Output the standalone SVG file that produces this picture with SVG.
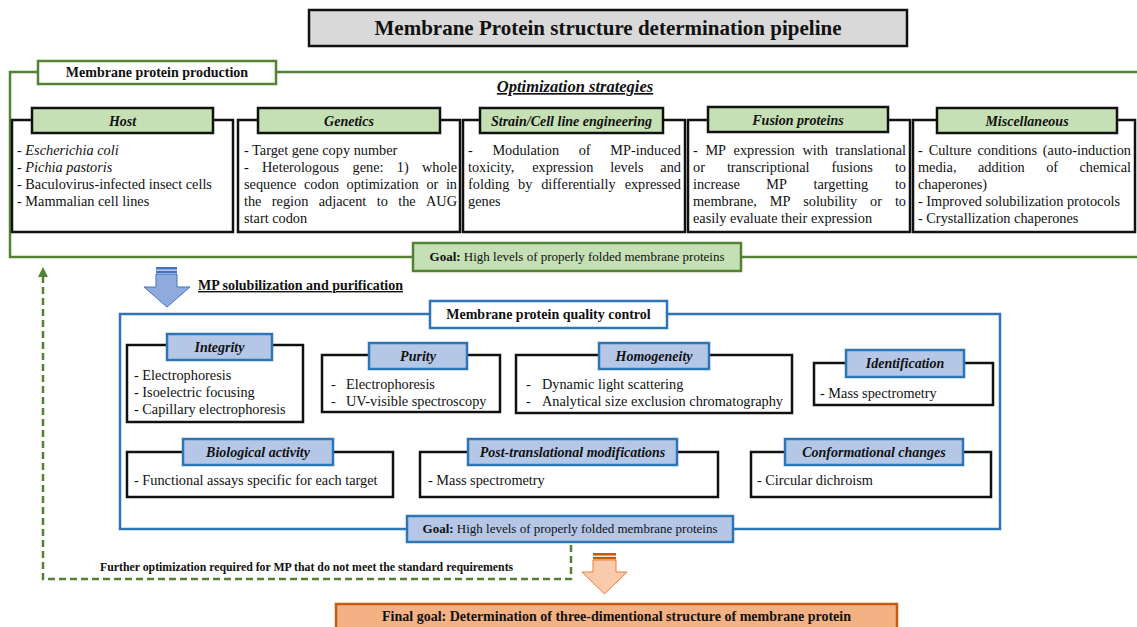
<svg xmlns="http://www.w3.org/2000/svg" width="1137" height="627" viewBox="0 0 1137 627">
<defs>
<style>
text{font-family:"Liberation Serif","Times New Roman",serif;fill:#111}
.b{font-size:14.3px}
.h{font-size:14px;font-weight:bold;font-style:italic}
.bold{font-weight:bold}
.box{fill:#fff;stroke:#111;stroke-width:2.5}
.gtab{fill:#c5e0b4;stroke:#111;stroke-width:2.5}
.btab{fill:#b4c7e7;stroke:#2e75b6;stroke-width:2.5}
.gl{fill:none;stroke:#548235;stroke-width:2.5}
.bl{fill:none;stroke:#2e75b6;stroke-width:2.5}
.i{font-style:italic}
.m{text-anchor:middle}
.e{text-anchor:end}
</style>
<marker id="ga" viewBox="0 0 10 10" refX="5" refY="5" markerWidth="4" markerHeight="4" orient="auto-start-reverse" markerUnits="strokeWidth">
<path d="M0,0 L10,5 L0,10 Z" fill="#548235"/>
</marker>
</defs>
<rect width="1137" height="627" fill="#fff"/>

<g id="title">
<rect x="309" y="10" width="598" height="36" fill="#d9d9d9" stroke="#111" stroke-width="2.5"/>
<text x="608" y="35" class="m bold" style="font-size:21px">Membrane Protein structure determination pipeline</text>
</g>

<g id="connectors">
<path class="gl" d="M38,72 H10 V257 H413 M741,257 H1137 M276,72 H1137"/>
<path class="bl" d="M430,314 H120 V529 H407 M733,529 H1000 V314 H667"/>
<path d="M571,545 V579 H43 V272" fill="none" stroke="#548235" stroke-width="2.5" stroke-dasharray="7,4" marker-end="url(#ga)"/>
</g>

<g id="production-label">
<rect x="38" y="61" width="238" height="23" fill="#fff" stroke="#548235" stroke-width="2.5"/>
<text x="157" y="77" class="m bold" style="font-size:14px">Membrane protein production</text>
</g>
<text x="575" y="92" class="m bold i" style="font-size:16.5px;text-decoration:underline">Optimization strategies</text>

<g id="host">
<rect class="box" x="12" y="120" width="221" height="112"/>
<rect class="gtab" x="32" y="108" width="181" height="25"/>
<text x="122.5" y="126" class="h m">Host</text>
<text class="b" x="17" y="155">- <tspan class="i">Escherichia coli</tspan></text>
<text class="b" x="17" y="172">- <tspan class="i">Pichia pastoris</tspan></text>
<text class="b" x="17" y="189">- Baculovirus-infected insect cells</text>
<text class="b" x="17" y="206">- Mammalian cell lines</text>
</g>

<g id="genetics">
<rect class="box" x="238" y="120" width="222" height="112"/>
<rect class="gtab" x="258" y="108" width="182" height="25"/>
<text x="349" y="126" class="h m">Genetics</text>
<text class="b" x="244" y="155">- Target gene copy number</text>
<text class="b" y="172"><tspan x="244">-</tspan><tspan x="262">Heterologous</tspan><tspan x="352.5">gene:</tspan><tspan x="396.8">1)</tspan></text>
<text class="b e" x="457" y="172">whole</text>
<text class="b" y="189"><tspan x="244">sequence</tspan><tspan x="304">codon</tspan><tspan x="346.5">optimization</tspan><tspan x="426.4">or</tspan></text>
<text class="b e" x="457" y="189">in</text>
<text class="b" y="206"><tspan x="244">the</tspan><tspan x="271.8">region</tspan><tspan x="318.7">adjacent</tspan><tspan x="376.7">to</tspan><tspan x="398.2">the</tspan></text>
<text class="b e" x="457" y="206">AUG</text>
<text class="b" x="244" y="223">start codon</text>
</g>

<g id="strain">
<rect class="box" x="463" y="120" width="222" height="112"/>
<rect class="gtab" x="480" y="108" width="183" height="25"/>
<text x="571.5" y="126" class="h m">Strain/Cell line engineering</text>
<text class="b" y="155"><tspan x="468">-</tspan><tspan x="492.4">Modulation</tspan><tspan x="578.7">of</tspan></text>
<text class="b e" x="681" y="155">MP-induced</text>
<text class="b" y="172"><tspan x="468">toxicity,</tspan><tspan x="532.2">expression</tspan><tspan x="610.3">levels</tspan></text>
<text class="b e" x="681" y="172">and</text>
<text class="b" y="189"><tspan x="468">folding</tspan><tspan x="518.1">by</tspan><tspan x="541.2">differentially</tspan></text>
<text class="b e" x="681" y="189">expressed</text>
<text class="b" x="468" y="206">genes</text>
</g>

<g id="fusion">
<rect class="box" x="688" y="120" width="222" height="112"/>
<rect class="gtab" x="708" y="107" width="180" height="25"/>
<text x="798" y="125" class="h m">Fusion proteins</text>
<text class="b" y="155"><tspan x="693">-</tspan><tspan x="705.4">MP</tspan><tspan x="733.6">expression</tspan><tspan x="802.4">with</tspan></text>
<text class="b e" x="906" y="155">translational</text>
<text class="b" y="172"><tspan x="693">or</tspan><tspan x="726.9">transcriptional</tspan><tspan x="831.5">fusions</tspan></text>
<text class="b e" x="906" y="172">to</text>
<text class="b" y="189"><tspan x="693">increase</tspan><tspan x="766.3">MP</tspan><tspan x="813.5">targetting</tspan></text>
<text class="b e" x="906" y="189">to</text>
<text class="b" y="206"><tspan x="693">membrane,</tspan><tspan x="769.7">MP</tspan><tspan x="803.2">solubility</tspan><tspan x="870">or</tspan></text>
<text class="b e" x="906" y="206">to</text>
<text class="b" x="693" y="223">easily evaluate their expression</text>
</g>

<g id="misc">
<rect class="box" x="913" y="120" width="222" height="112"/>
<rect class="gtab" x="937" y="108" width="180" height="25"/>
<text x="1027" y="126" class="h m">Miscellaneous</text>
<text class="b" y="155"><tspan x="918">-</tspan><tspan x="928.7">Culture</tspan><tspan x="977.5">conditions</tspan></text>
<text class="b e" x="1131" y="155">(auto-induction</text>
<text class="b" y="172"><tspan x="918">media,</tspan><tspan x="977.9">addition</tspan><tspan x="1046.2">of</tspan></text>
<text class="b e" x="1131" y="172">chemical</text>
<text class="b" x="918" y="189">chaperones)</text>
<text class="b" x="918" y="206">- Improved solubilization protocols</text>
<text class="b" x="918" y="223">- Crystallization chaperones</text>
</g>

<g id="goal-production">
<rect x="413" y="243" width="328" height="28" fill="#c5e0b4" stroke="#548235" stroke-width="2.5"/>
<text x="577" y="261" class="m" style="font-size:13px"><tspan class="bold">Goal:</tspan> High levels of properly folded membrane proteins</text>
</g>

<g id="arrow-solubilization">
<rect x="156" y="267" width="21" height="2.6" fill="#4472c4"/>
<rect x="156" y="270.6" width="21" height="2.6" fill="#4472c4"/>
<path d="M156,274 H177 V287 H190 L167,307 L144,287 H156 Z" fill="#8faadc" stroke="#4472c4" stroke-width="1"/>
<text x="198" y="290" class="bold" style="font-size:14px;text-decoration:underline">MP solubilization and purification</text>
</g>

<g id="qc-label">
<rect x="430" y="301" width="237" height="27" fill="#fff" stroke="#2e75b6" stroke-width="2.5"/>
<text x="548.5" y="319" class="m bold" style="font-size:14px">Membrane protein quality control</text>
</g>

<g id="integrity">
<rect class="box" x="127" y="345" width="176" height="77"/>
<rect class="btab" x="167" y="334" width="105" height="26"/>
<text x="219.5" y="352" class="h m">Integrity</text>
<text class="b" x="134" y="380">- Electrophoresis</text>
<text class="b" x="134" y="397">- Isoelectric focusing</text>
<text class="b" x="134" y="414">- Capillary electrophoresis</text>
</g>

<g id="purity">
<rect class="box" x="322" y="355" width="178" height="57"/>
<rect class="btab" x="369" y="343" width="98" height="26"/>
<text x="418" y="361" class="h m">Purity</text>
<text class="b" y="389"><tspan x="331">-</tspan><tspan x="346">Electrophoresis</tspan></text>
<text class="b" y="406"><tspan x="331">-</tspan><tspan x="346">UV-visible spectroscopy</tspan></text>
</g>

<g id="homogeneity">
<rect class="box" x="516" y="355" width="276" height="58"/>
<rect class="btab" x="599" y="343" width="110" height="26"/>
<text x="654" y="361" class="h m">Homogeneity</text>
<text class="b" y="389"><tspan x="526">-</tspan><tspan x="542">Dynamic light scattering</tspan></text>
<text class="b" y="406"><tspan x="526">-</tspan><tspan x="542">Analytical size exclusion chromatography</tspan></text>
</g>

<g id="identification">
<rect class="box" x="814" y="363" width="179" height="42"/>
<rect class="btab" x="846" y="350" width="118" height="27"/>
<text x="905" y="368" class="h m">Identification</text>
<text class="b" x="820" y="398">- Mass spectrometry</text>
</g>

<g id="biological-activity">
<rect class="box" x="127" y="452" width="266" height="45"/>
<rect class="btab" x="183" y="439" width="150" height="26"/>
<text x="258" y="457" class="h m">Biological activity</text>
<text class="b" x="134" y="485">- Functional assays specific for each target</text>
</g>

<g id="post-translational">
<rect class="box" x="420" y="452" width="298" height="45"/>
<rect class="btab" x="468" y="439" width="209" height="26"/>
<text x="572.5" y="457" class="h m">Post-translational modifications</text>
<text class="b" x="428" y="485">- Mass spectrometry</text>
</g>

<g id="conformational">
<rect class="box" x="751" y="452" width="240" height="45"/>
<rect class="btab" x="785" y="439" width="178" height="26"/>
<text x="874" y="457" class="h m">Conformational changes</text>
<text class="b" x="757" y="485">- Circular dichroism</text>
</g>

<g id="goal-qc">
<rect x="407" y="516" width="326" height="26" fill="#b4c7e7" stroke="#2e75b6" stroke-width="2.5"/>
<text x="570" y="533" class="m" style="font-size:13px"><tspan class="bold">Goal:</tspan> High levels of properly folded membrane proteins</text>
</g>

<text x="100" y="571" class="bold" style="font-size:11.8px">Further optimization required for MP that do not meet the standard requirements</text>

<g id="arrow-final">
<rect x="593" y="553" width="23" height="2.6" fill="#c55a11"/>
<rect x="593" y="556.8" width="23" height="2.6" fill="#c55a11"/>
<path d="M593,560 H616 V572 H627 L604.5,594 L582,572 H593 Z" fill="#f8cbad" stroke="#ed7d31" stroke-width="1"/>
</g>

<g id="final-goal">
<rect x="336" y="604" width="561" height="40" fill="#f4b183" stroke="#c55a11" stroke-width="2.5"/>
<text x="616.5" y="621" class="m bold" style="font-size:14px">Final goal: Determination of three-dimentional structure of membrane protein</text>
</g>
</svg>
